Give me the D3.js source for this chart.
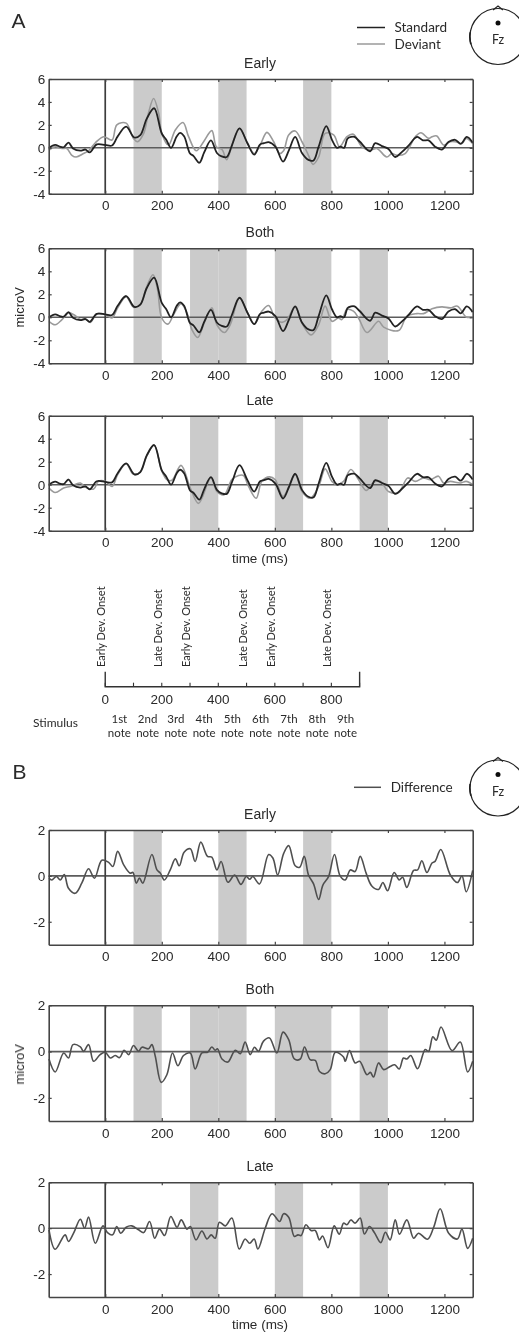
<!DOCTYPE html>
<html>
<head>
<meta charset="utf-8">
<script src="https://d3js.org/d3.v7.min.js"></script>
<style>
  html, body { margin: 0; padding: 0; background: #fff; }
  svg { display: block; }
  text { fill: #2a2a2a; font-family: "Liberation Sans", Arial, sans-serif; }
  .hum { font-family: "Lato", sans-serif; }
</style>
</head>
<body>
<div id="Chart"></div>
<script>

// time (ms) and amplitude (microV)
var stdT = [-199,-177,-161,-147,-130,-114,-88,-70,-55,-30,0,24,44,74,103,124,147,173,200,216,233,253,265,279,300,312,333,350,374,395,412,430,448,475,503,527,548,562,578,602,629,650,672,696,719,737,755,782,802,820,832,845,857,870,882,900,937,955,979,1002,1026,1050,1073,1103,1124,1144,1167,1191,1214,1238,1258,1279,1300];
var stdV = [0,.26,.1,.05,.45,-.05,-.25,-.15,-.4,.3,.25,.2,1,1.85,.9,1.1,2.55,3.45,1.25,.7,0,1,1.3,1,-.5,-.7,-1.3,-.4,.65,-.45,-.75,-.8,.2,1.7,.4,-.6,.3,.4,.5,.1,-1.2,-.2,.95,-.45,-1.05,-1.1,.1,1.9,.7,0,.1,0,.8,.95,.95,.55,-.3,.4,.15,-.1,-.8,-.35,.2,.95,.65,.65,.1,-.15,.5,.7,.35,.95,.45];

var devEarlyT = [-199,-177,-153,-136,-118,-103,-77,-59,-35,-6,24,41,74,100,114,136,153,171,189,200,224,248,275,295,322,348,377,393,413,430,454,475,501,527,548,572,596,617,631,649,672,696,719,735,755,778,808,829,855,878,908,937,961,996,1014,1032,1061,1097,1117,1144,1156,1173,1197,1220,1238,1262,1277,1300];
var devEarlyV = [-.2,.09,-.06,-.06,-.65,-.8,-.5,-.26,.44,.97,.68,2,2.15,.82,.53,1.26,3.03,4.3,3.03,1.26,.24,1.56,2.2,.97,-.26,.53,1.5,.09,-.15,-1.03,.68,1.7,.53,-.5,.24,1.35,.53,-.5,-.26,1.12,1.47,.53,-.65,-1.44,-.8,1.26,1.12,.09,.97,1.18,.09,-.2,-.06,-.8,-.5,-.65,-.5,.97,1.32,.82,.97,1.03,.24,.53,.53,.38,.82,.38];

var devBothT = [-199,-177,-153,-130,-106,-88,-71,-53,-29,0,24,44,74,100,124,147,169,185,200,222,242,268,289,307,327,350,377,395,421,442,475,504,527,554,578,601,625,643,672,696,728,755,778,802,825,837,855,878,896,926,967,985,1038,1067,1103,1126,1156,1191,1221,1246,1277,1300];
var devBothV = [-.35,-.65,-.2,.38,.15,-.2,-.15,-.44,.32,.24,-.06,.82,1.8,.88,1.12,2.68,3.7,2.44,-.06,-.59,.24,1.18,.38,-1.09,-1.76,-.5,.82,-.65,-1.32,-.65,1.7,.38,-.59,.53,1.03,-.06,-.44,-.2,.91,-.5,-1.53,-.65,.97,-.35,-.06,-.2,.68,.53,-.06,-1.32,-.35,-.85,-1.15,.09,.32,.32,.74,.91,.82,.97,.03,.03];

var devLateT = [-199,-177,-147,-124,-88,-71,-41,-24,0,24,44,74,100,124,147,173,200,218,236,268,301,330,374,395,421,448,472,489,507,534,554,581,601,629,672,696,725,755,778,802,820,843,869,896,923,949,973,1002,1038,1070,1097,1126,1150,1179,1197,1221,1256,1277,1300];
var devLateV = [-.29,-.68,-.29,-.15,.15,-.2,-.38,.29,.29,-.15,.88,1.82,.9,1.1,2.5,3.45,1.2,.44,.38,1.68,-.29,-1.62,.6,-.59,-.88,.44,.8,.8,-.15,-1.18,.29,.68,.44,-1.03,.88,-.59,-1.18,-.15,1.38,.29,0,.29,1.32,.44,-.5,.2,.29,-.59,-.68,.59,.29,.59,.44,.74,.15,.29,.15,.29,0];

var diffEarlyT = [-199,-189,-173,-159,-145,-130,-106,-83,-59,-38,-12,12,27,44,65,88,98,110,121,133,165,183,195,209,230,248,262,279,301,318,338,362,377,395,410,434,458,480,499,511,522,546,578,593,610,631,649,672,688,704,719,737,755,770,790,811,831,849,867,884,902,923,943,967,982,999,1022,1040,1052,1067,1091,1105,1120,1138,1156,1167,1187,1221,1246,1262,1277,1300];
var diffEarlyV = [-.1,-.18,-.03,-.18,.06,-.54,-.76,-.32,.31,-.1,.68,.59,.41,1.07,.49,.12,.15,-.32,-.1,-.32,.93,.26,.12,-.18,.26,.74,.44,1.03,1.18,.63,1.47,.85,.82,.26,.63,-.28,.04,-.37,-.03,-.15,-.03,-.35,.93,.78,.04,.97,1.32,.44,.38,.85,.04,-.35,-1.03,-.4,-.03,.93,0,-.18,.26,.19,.85,.12,-.44,-.59,-.29,-.65,.15,-.18,-.06,-.5,.24,.26,.66,.15,.56,.63,1.15,.04,-.29,0,-.69,.24];

var diffBothT = [-199,-177,-147,-130,-114,-88,-77,-59,-41,-18,0,18,35,51,67,83,100,118,130,153,165,177,198,218,238,257,277,301,318,342,362,377,389,397,413,434,460,478,495,513,528,542,560,581,607,629,649,669,690,705,725,743,758,778,796,814,843,849,864,884,900,926,938,949,967,985,1008,1024,1040,1055,1067,1081,1105,1132,1144,1159,1171,1188,1227,1256,1282,1300];
var diffBothV = [-.32,-.88,-.06,-.28,.3,.2,.01,.3,-.42,-.13,-.03,-.28,-.17,-.26,.06,-.13,.26,.01,.19,.12,.3,-.2,-1.33,-1,-.06,-.61,-.17,-.06,-.75,-.06,-.03,.2,.06,.12,-.32,-.45,.06,-.09,.41,-.13,.19,.01,.45,.59,-.06,.84,.52,-.32,-.32,.2,-.35,-.38,-.86,-.96,-.78,-.03,-.23,-.42,.04,-.49,-.42,-1,-.9,-1.1,-.49,-.78,-.64,-.57,-.75,-.28,-.32,-.17,-.74,.09,.01,.64,.49,1.06,.04,.41,-.88,-.42];

var diffLateT = [-199,-177,-142,-130,-112,-88,-73,-59,-35,-8,8,26,41,55,74,94,118,136,157,175,192,210,232,254,269,289,301,321,342,360,375,389,404,425,448,474,495,511,527,540,566,590,617,631,649,669,682,693,710,728,743,758,769,788,810,828,843,855,869,884,902,917,935,952,975,991,1008,1026,1041,1067,1091,1108,1140,1162,1185,1215,1246,1262,1282,1300];
var diffLateV = [-.07,-.92,-.29,-.58,-.22,.39,0,.48,-.66,.1,-.19,-.29,.07,-.22,.04,.1,-.07,-.19,.29,-.44,-.04,-.32,.51,.04,.36,-.04,.07,-.51,-.12,-.47,-.29,-.44,.26,.1,.44,-.91,-.47,-.66,-.47,-.91,0,.63,.29,.63,.48,-.36,-.29,-.32,.15,-.1,-.1,-.51,-.34,-.85,.1,-.26,.22,.15,.36,.22,.44,-.25,.07,-.19,-.63,-.18,-.51,.36,-.26,.36,-.44,-.22,-.48,.04,.85,-.22,-.47,-.04,-.88,-.44];

var bandsEarly = [[100,200],[400,500],[700,800]];
var bandsBoth = [[100,200],[300,400],[400,500],[600,800],[900,1000]];
var bandsLate = [[300,400],[600,700],[900,1000]];

var xTicks = [0,200,400,600,800,1000,1200];
var yTicksA = [-4,-2,0,2,4,6];
var yTicksB = [-2,0,2];
var bracketTicks = [0,100,200,300,400,500,600,700,800,900];
var bracketLabels = [0,200,400,600,800];
var onsetTimes = [0,200,300,500,600,800];
var onsetLabels = ["Early Dev. Onset","Late Dev. Onset","Early Dev. Onset","Late Dev. Onset","Early Dev. Onset","Late Dev. Onset"];
var noteLabels = ["1st","2nd","3rd","4th","5th","6th","7th","8th","9th"];

var colStd = "#222", colDev = "#9a9a9a", colDiff = "#505050";

function zip(t, v) { return t.map(function (d, i) { return [d, v[i]]; }); }

var panels = [
  {title:"Early", top:79, bottom:193.7, dom:[-4,6], yt:yTicksA, bands:bandsEarly, lines:[[zip(devEarlyT,devEarlyV),colDev],[zip(stdT,stdV),colStd]]},
  {title:"Both", top:248.3, bottom:363.3, dom:[-4,6], yt:yTicksA, bands:bandsBoth, ylab:true, lines:[[zip(devBothT,devBothV),colDev],[zip(stdT,stdV),colStd]]},
  {title:"Late", top:415.7, bottom:530.7, dom:[-4,6], yt:yTicksA, bands:bandsLate, xlab:true, lines:[[zip(devLateT,devLateV),colDev],[zip(stdT,stdV),colStd]]},
  {title:"Early", top:830, bottom:944.7, dom:[-3,2], yt:yTicksB, bands:bandsEarly, lines:[[zip(diffEarlyT,diffEarlyV),colDiff]]},
  {title:"Both", top:1005.3, bottom:1121, dom:[-3,2], yt:yTicksB, bands:bandsBoth, ylab:true, lines:[[zip(diffBothT,diffBothV),colDiff]]},
  {title:"Late", top:1182.3, bottom:1297, dom:[-3,2], yt:yTicksB, bands:bandsLate, xlab:true, lines:[[zip(diffLateT,diffLateV),colDiff]]}
];

var svgRoot = d3.select("#Chart").append("svg")
    .attr("width", 519)
    .attr("height", 1332)
    .attr("xmlns", "http://www.w3.org/2000/svg");

// the reference is a slightly soft scan
svgRoot.append("defs").append("filter").attr("id", "soft")
    .attr("x", 0).attr("y", 0).attr("width", 519).attr("height", 1332)
    .attr("filterUnits", "userSpaceOnUse")
  .append("feGaussianBlur").attr("stdDeviation", 0.5);

var svg = svgRoot.append("g").attr("filter", "url(#soft)");

var x = d3.scaleLinear().domain([-200, 1300]).range([48.7, 472.7]);
var frameCol = "#444";

panels.forEach(function (p) {
  var y = d3.scaleLinear().domain(p.dom).range([p.bottom, p.top]);
  var g = svg.append("g");

  g.selectAll(".band").data(p.bands).enter().append("rect")
      .attr("x", function (d) { return x(d[0]); })
      .attr("width", function (d) { return x(d[1]) - x(d[0]); })
      .attr("y", p.top)
      .attr("height", p.bottom - p.top)
      .attr("fill", "#cbcbcb");

  // zero lines
  g.append("line").attr("x1", x(-200)).attr("x2", x(1300)).attr("y1", y(0)).attr("y2", y(0))
      .attr("stroke", "#5c5c5c").attr("stroke-width", 1.6);
  g.append("line").attr("x1", x(0)).attr("x2", x(0)).attr("y1", p.top).attr("y2", p.bottom)
      .attr("stroke", "#3c3c3c").attr("stroke-width", 1.7);

  var line = d3.line()
      .x(function (d) { return x(d[0]); })
      .y(function (d) { return y(d[1]); })
      .curve(d3.curveCatmullRom.alpha(0.5));

  p.lines.forEach(function (l) {
    g.append("path").attr("d", line(l[0])).attr("fill", "none")
        .attr("stroke", l[1]).attr("stroke-width", l[1] == colStd ? 1.8 : 1.6);
  });

  // axes on all four sides with inward ticks, labels only bottom and left
  var bottom = g.append("g").attr("transform", "translate(0," + p.bottom + ")")
      .call(d3.axisBottom(x).tickValues(xTicks).tickSizeInner(-3).tickSizeOuter(0).tickFormat(d3.format("d")));
  var top = g.append("g").attr("transform", "translate(0," + p.top + ")")
      .call(d3.axisTop(x).tickValues(xTicks).tickSizeInner(-3).tickSizeOuter(0).tickFormat(""));
  var left = g.append("g").attr("transform", "translate(" + x(-200) + ",0)")
      .call(d3.axisLeft(y).tickValues(p.yt).tickSizeInner(-3).tickSizeOuter(0).tickFormat(d3.format("d")));
  var right = g.append("g").attr("transform", "translate(" + x(1300) + ",0)")
      .call(d3.axisRight(y).tickValues(p.yt).tickSizeInner(-3).tickSizeOuter(0).tickFormat(""));

  [bottom, top, left, right].forEach(function (a) {
    a.selectAll("path").attr("stroke", frameCol).attr("stroke-width", 1.6);
    a.selectAll("line").attr("stroke", frameCol).attr("stroke-width", 1.2);
    a.selectAll("text").style("font-size", "13.5px").style("font-family", "Liberation Sans").attr("fill", "#2a2a2a");
  });
  bottom.selectAll("text").attr("y", 7).attr("dy", "0.71em");
  left.selectAll("text").attr("x", -3.5).text(function (d) { return d; });

  g.append("text").attr("x", 260).attr("y", p.top - 11).attr("text-anchor", "middle")
      .style("font-size", "14px").text(p.title);

  if (p.ylab) {
    g.append("text").attr("transform", "translate(24," + (p.top + 59) + ") rotate(-90)")
        .attr("text-anchor", "middle").style("font-size", "13px").text("microV");
  }
  if (p.xlab) {
    g.append("text").attr("x", 260).attr("y", p.bottom + 32).attr("text-anchor", "middle")
        .style("font-size", "13.5px").text("time (ms)");
  }
});

// panel letters
svg.append("text").attr("x", 11.5).attr("y", 28).style("font-size", "21px").text("A");
svg.append("text").attr("x", 12.5).attr("y", 779).style("font-size", "21px").text("B");

// legends
function legend(x1, x2, yPos, col, label, tx) {
  svg.append("line").attr("x1", x1).attr("x2", x2).attr("y1", yPos).attr("y2", yPos)
      .attr("stroke", col).attr("stroke-width", 1.5);
  svg.append("text").attr("class", "hum").attr("x", tx).attr("y", yPos + 4.5)
      .style("font-size", "13.5px").text(label);
}
legend(357, 385, 27.5, colStd, "Standard", 394.5);
legend(357, 385, 44, colDev, "Deviant", 394.5);
legend(354, 381, 787.3, colDiff, "Difference", 390.7);

// head diagrams
function head(cy) {
  var h = svg.append("g").attr("transform", "translate(498," + cy + ")");
  h.append("circle").attr("r", 28).attr("fill", "#fff").attr("stroke", "#222").attr("stroke-width", 1.2);
  h.append("path").attr("d", "M-5,-26.5 L0,-30.5 L5,-26.5").attr("fill", "none").attr("stroke", "#222").attr("stroke-width", 1.2);
  h.append("path").attr("d", d3.arc()({innerRadius: 27.5, outerRadius: 29, startAngle: -Math.PI / 2 - 0.28, endAngle: -Math.PI / 2 + 0.15}))
      .attr("fill", "#222");
  h.append("circle").attr("cy", -13.5).attr("r", 2.5).attr("fill", "#111");
  h.append("text").attr("class", "hum").attr("y", 7.5).attr("text-anchor", "middle")
      .style("font-size", "12.5px").text("Fz");
}
head(36.5);
head(788);

// stimulus timeline
var tl = svg.append("g");
var bracketY = 686.7;
tl.append("path")
    .attr("d", d3.line()([[x(0), bracketY - 15], [x(0), bracketY], [x(900), bracketY], [x(900), bracketY - 15]]))
    .attr("fill", "none").attr("stroke", "#333").attr("stroke-width", 1.4);
tl.selectAll(".bt").data(bracketTicks).enter().append("line")
    .attr("x1", function (d) { return x(d); }).attr("x2", function (d) { return x(d); })
    .attr("y1", bracketY).attr("y2", bracketY - 4)
    .attr("stroke", "#333").attr("stroke-width", 1.1);
tl.selectAll(".bl").data(bracketLabels).enter().append("text")
    .attr("x", function (d) { return x(d); }).attr("y", 703.5)
    .attr("text-anchor", "middle").style("font-size", "13.5px").text(function (d) { return d; });
tl.selectAll(".onset").data(onsetTimes).enter().append("text")
    .attr("class", "hum")
    .attr("transform", function (d) { return "translate(" + x(d) + ",667) rotate(-90)"; })
    .style("font-size", "11px")
    .text(function (d, i) { return onsetLabels[i]; });
tl.append("text").attr("class", "hum").attr("x", 33).attr("y", 727).style("font-size", "12px").text("Stimulus");
tl.selectAll(".n1").data(noteLabels).enter().append("text")
    .attr("class", "hum")
    .attr("x", function (d, i) { return x(i * 100 + 50); }).attr("y", 722.5)
    .attr("text-anchor", "middle").style("font-size", "11.5px").text(function (d) { return d; });
tl.selectAll(".n2").data(noteLabels).enter().append("text")
    .attr("class", "hum")
    .attr("x", function (d, i) { return x(i * 100 + 50); }).attr("y", 737)
    .attr("text-anchor", "middle").style("font-size", "11.5px").text("note");

</script>
</body>
</html>
